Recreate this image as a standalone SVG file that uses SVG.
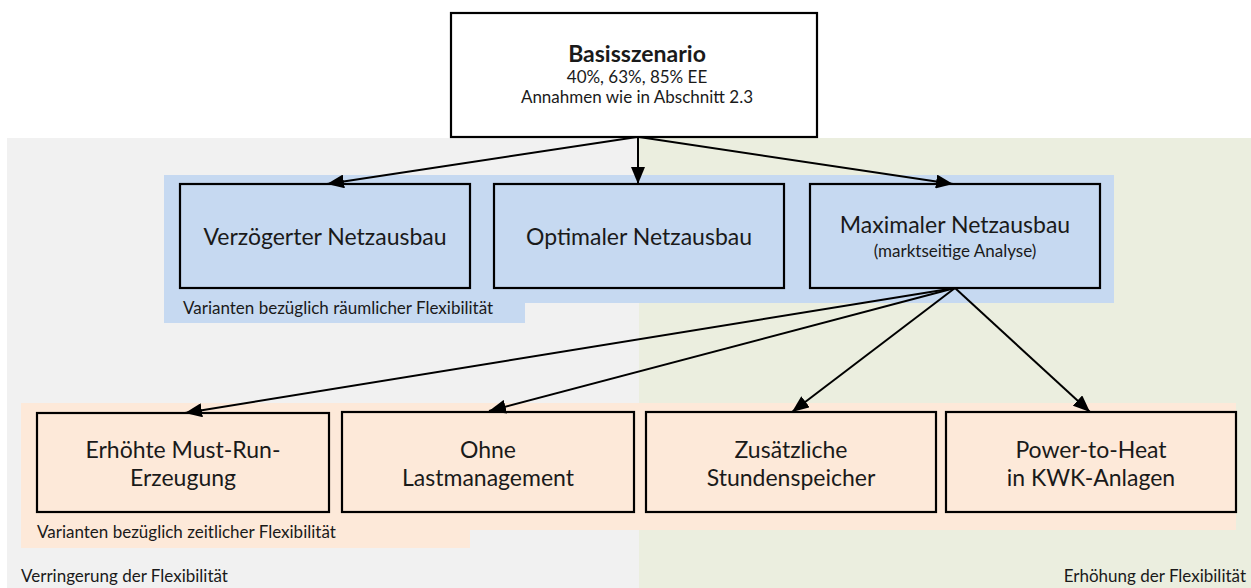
<svg xmlns="http://www.w3.org/2000/svg" width="1251" height="588" viewBox="0 0 1251 588">
<style>
text{font-family:Lato,"Open Sans","Liberation Sans",sans-serif;fill:#1a1a1a}
.box{stroke:#000;stroke-width:2.2}
.blue{fill:#C6D9F1}
.orange{fill:#FDE9D9}
.big{font-size:23px;text-anchor:middle}
.mid{font-size:17px;text-anchor:middle}
.lab{font-size:17px}
.conn{stroke:#000;stroke-width:2;fill:none;marker-end:url(#ah)}
</style>
<defs>
<marker id="ah" markerUnits="userSpaceOnUse" markerWidth="18" markerHeight="14" refX="17" refY="7" orient="auto">
<path d="M0,0 L17,7 L0,14 z" fill="#000"/>
</marker>
</defs>
<g id="backgrounds">
<rect x="7" y="138" width="632" height="450" fill="#F1F1F1"/>
<rect x="639" y="138" width="612" height="450" fill="#EBEEDF"/>
<path d="M164,175 H1114 V303 H525 V323 H164 Z" fill="#C6D9F1"/>
<path d="M21,403 H1236 V530 H470 V548 H21 Z" fill="#FDE9D9"/>
<text class="lab" x="183" y="314">Varianten bezüglich räumlicher Flexibilität</text>
<text class="lab" x="37" y="538">Varianten bezüglich zeitlicher Flexibilität</text>
<text class="lab" x="21" y="582">Verringerung der Flexibilität</text>
<text class="lab" x="1246" y="582" text-anchor="end">Erhöhung der Flexibilität</text>
</g>
<g id="basis">
<rect class="box" x="451" y="13" width="366" height="124" fill="#fff"/>
<text x="637" y="62" font-size="23" font-weight="bold" text-anchor="middle">Basisszenario</text>
<text class="mid" x="637" y="83">40%, 63%, 85% EE</text>
<text class="mid" x="637" y="103">Annahmen wie in Abschnitt 2.3</text>
</g>
<g id="verzoegert">
<rect class="box blue" x="180" y="184" width="290" height="104"/>
<text class="big" x="325" y="245">Verzögerter Netzausbau</text>
</g>
<g id="optimal">
<rect class="box blue" x="494" y="184" width="290" height="104"/>
<text class="big" x="639" y="245">Optimaler Netzausbau</text>
</g>
<g id="maximal">
<rect class="box blue" x="810" y="184" width="290" height="104"/>
<text class="big" x="955" y="233">Maximaler Netzausbau</text>
<text class="mid" x="955" y="257">(marktseitige Analyse)</text>
</g>
<g id="mustrun">
<rect class="box orange" x="37" y="413" width="292" height="99"/>
<text class="big" x="183" y="458">Erhöhte Must-Run-</text>
<text class="big" x="183" y="486">Erzeugung</text>
</g>
<g id="lastmanagement">
<rect class="box orange" x="342" y="412" width="292" height="100"/>
<text class="big" x="488" y="458">Ohne</text>
<text class="big" x="488" y="486">Lastmanagement</text>
</g>
<g id="stundenspeicher">
<rect class="box orange" x="646" y="412" width="290" height="100"/>
<text class="big" x="791" y="458">Zusätzliche</text>
<text class="big" x="791" y="486">Stundenspeicher</text>
</g>
<g id="powertoheat">
<rect class="box orange" x="946" y="412" width="290" height="100"/>
<text class="big" x="1091" y="458">Power-to-Heat</text>
<text class="big" x="1091" y="486">in KWK-Anlagen</text>
</g>
<g id="connectors">
<line class="conn" x1="637" y1="137" x2="327" y2="184"/>
<line class="conn" x1="638" y1="137" x2="638" y2="184"/>
<line class="conn" x1="639" y1="137" x2="953" y2="184"/>
<line class="conn" x1="955" y1="288" x2="185" y2="413"/>
<line class="conn" x1="955" y1="288" x2="489" y2="411"/>
<line class="conn" x1="955" y1="288" x2="792" y2="412"/>
<line class="conn" x1="955" y1="288" x2="1090" y2="412"/>
</g>
</svg>
